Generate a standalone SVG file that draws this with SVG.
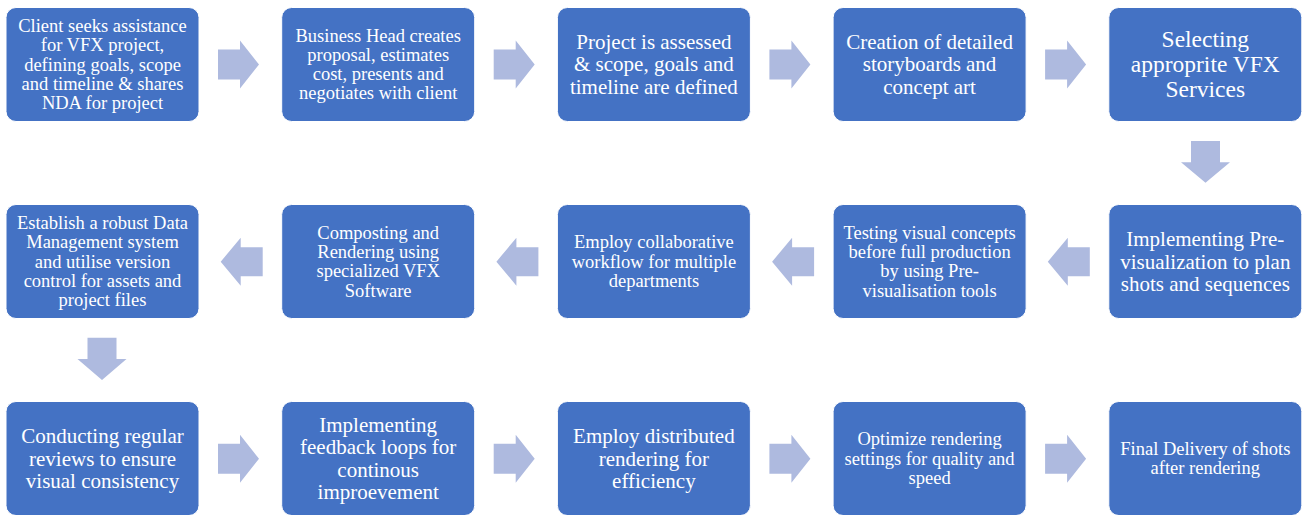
<svg xmlns="http://www.w3.org/2000/svg" width="1307" height="515" viewBox="0 0 1307 515">
<style>
.box{fill:#4472C4;stroke:#ffffff;stroke-width:1}
.t{font-family:"Liberation Serif","Times New Roman",serif;fill:#ffffff;text-anchor:middle}
.s{font-size:18.5px}
.m{font-size:21px}
.l{font-size:23.5px}
.arr{fill:#AEBADF}
</style>
<rect width="1307" height="515" fill="#ffffff"/>
<g id="connectors">
<path class="arr" d="M218,49.5H240V40.5L259,64.5L240,88.5V79.5H218Z"/>
<path class="arr" d="M493.7,49.5H515.7V40.5L534.7,64.5L515.7,88.5V79.5H493.7Z"/>
<path class="arr" d="M769.4,49.5H791.4V40.5L810.4,64.5L791.4,88.5V79.5H769.4Z"/>
<path class="arr" d="M1045.1,49.5H1067.1V40.5L1086.1,64.5L1067.1,88.5V79.5H1045.1Z"/>
<path class="arr" d="M1191,141H1220V162.3H1230L1205.5,182.7L1181,162.3H1191Z"/>
<path class="arr" d="M1047.8,261.7L1067.8,237.7V247.2H1089.8V276.2H1067.8V285.7Z"/>
<path class="arr" d="M772.1,261.7L792.1,237.7V247.2H814.1V276.2H792.1V285.7Z"/>
<path class="arr" d="M496.4,261.7L516.4,237.7V247.2H538.4V276.2H516.4V285.7Z"/>
<path class="arr" d="M220.7,261.7L240.7,237.7V247.2H262.7V276.2H240.7V285.7Z"/>
<path class="arr" d="M87.5,337.7H116.5V359H126.5L102,380L77.5,359H87.5Z"/>
<path class="arr" d="M218,443.7H240V434.7L259,458.7L240,482.7V473.7H218Z"/>
<path class="arr" d="M493.7,443.7H515.7V434.7L534.7,458.7L515.7,482.7V473.7H493.7Z"/>
<path class="arr" d="M769.4,443.7H791.4V434.7L810.4,458.7L791.4,482.7V473.7H769.4Z"/>
<path class="arr" d="M1045.1,443.7H1067.1V434.7L1086.1,458.7L1067.1,482.7V473.7H1045.1Z"/>
</g>
<g id="n1"><rect class="box" x="6" y="7.5" width="193" height="114" rx="10"/>
<text class="t s" x="102.5"><tspan x="102.5" y="31.9">Client seeks assistance</tspan><tspan x="102.5" y="51.2">for VFX project,</tspan><tspan x="102.5" y="70.5">defining goals, scope</tspan><tspan x="102.5" y="89.8">and timeline &amp; shares</tspan><tspan x="102.5" y="109.1">NDA for project</tspan></text></g>
<g id="n2"><rect class="box" x="281.7" y="7.5" width="193" height="114" rx="10"/>
<text class="t s"><tspan x="378.2" y="41.5">Business Head creates</tspan><tspan x="378.2" y="60.8">proposal, estimates</tspan><tspan x="378.2" y="80.1">cost, presents and</tspan><tspan x="378.2" y="99.4">negotiates with client</tspan></text></g>
<g id="n3"><rect class="box" x="557.4" y="7.5" width="193" height="114" rx="10"/>
<text class="t m"><tspan x="653.9" y="49">Project is assessed</tspan><tspan x="653.9" y="71.3">&amp; scope, goals and</tspan><tspan x="653.9" y="93.6">timeline are defined</tspan></text></g>
<g id="n4"><rect class="box" x="833.1" y="7.5" width="193" height="114" rx="10"/>
<text class="t m"><tspan x="929.6" y="49">Creation of detailed</tspan><tspan x="929.6" y="71.3">storyboards and</tspan><tspan x="929.6" y="93.6">concept art</tspan></text></g>
<g id="n5"><rect class="box" x="1108.8" y="7.5" width="193" height="114" rx="10"/>
<text class="t l"><tspan x="1205.3" y="47.1">Selecting</tspan><tspan x="1205.3" y="72.1">approprite VFX</tspan><tspan x="1205.3" y="97.1">Services</tspan></text></g>
<g id="n6"><rect class="box" x="1108.8" y="204.5" width="193" height="114" rx="10"/>
<text class="t m"><tspan x="1205.3" y="246.2">Implementing Pre-</tspan><tspan x="1205.3" y="268.5">visualization to plan</tspan><tspan x="1205.3" y="290.8">shots and sequences</tspan></text></g>
<g id="n7"><rect class="box" x="833.1" y="204.5" width="193" height="114" rx="10"/>
<text class="t s"><tspan x="929.6" y="238.75">Testing visual concepts</tspan><tspan x="929.6" y="258.05">before full production</tspan><tspan x="929.6" y="277.35">by using Pre-</tspan><tspan x="929.6" y="296.65">visualisation tools</tspan></text></g>
<g id="n8"><rect class="box" x="557.4" y="204.5" width="193" height="114" rx="10"/>
<text class="t s"><tspan x="653.9" y="248.4">Employ collaborative</tspan><tspan x="653.9" y="267.7">workflow for multiple</tspan><tspan x="653.9" y="287">departments</tspan></text></g>
<g id="n9"><rect class="box" x="281.7" y="204.5" width="193" height="114" rx="10"/>
<text class="t s"><tspan x="378.2" y="238.75">Composting and</tspan><tspan x="378.2" y="258.05">Rendering using</tspan><tspan x="378.2" y="277.35">specialized VFX</tspan><tspan x="378.2" y="296.65">Software</tspan></text></g>
<g id="n10"><rect class="box" x="6" y="204.5" width="193" height="114" rx="10"/>
<text class="t s"><tspan x="102.5" y="229.1">Establish a robust Data</tspan><tspan x="102.5" y="248.4">Management system</tspan><tspan x="102.5" y="267.7">and utilise version</tspan><tspan x="102.5" y="287">control for assets and</tspan><tspan x="102.5" y="306.3">project files</tspan></text></g>
<g id="n11"><rect class="box" x="6" y="401.5" width="193" height="114" rx="10"/>
<text class="t m"><tspan x="102.5" y="443.2">Conducting regular</tspan><tspan x="102.5" y="465.5">reviews to ensure</tspan><tspan x="102.5" y="487.8">visual consistency</tspan></text></g>
<g id="n12"><rect class="box" x="281.7" y="401.5" width="193" height="114" rx="10"/>
<text class="t m"><tspan x="378.2" y="432">Implementing</tspan><tspan x="378.2" y="454.3">feedback loops for</tspan><tspan x="378.2" y="476.6">continous</tspan><tspan x="378.2" y="498.9">improevement</tspan></text></g>
<g id="n13"><rect class="box" x="557.4" y="401.5" width="193" height="114" rx="10"/>
<text class="t m"><tspan x="653.9" y="443.2">Employ distributed</tspan><tspan x="653.9" y="465.5">rendering for</tspan><tspan x="653.9" y="487.8">efficiency</tspan></text></g>
<g id="n14"><rect class="box" x="833.1" y="401.5" width="193" height="114" rx="10"/>
<text class="t s"><tspan x="929.6" y="445.4">Optimize rendering</tspan><tspan x="929.6" y="464.7">settings for quality and</tspan><tspan x="929.6" y="484">speed</tspan></text></g>
<g id="n15"><rect class="box" x="1108.8" y="401.5" width="193" height="114" rx="10"/>
<text class="t s"><tspan x="1205.3" y="455">Final Delivery of shots</tspan><tspan x="1205.3" y="474.3">after rendering</tspan></text></g>
</svg>
